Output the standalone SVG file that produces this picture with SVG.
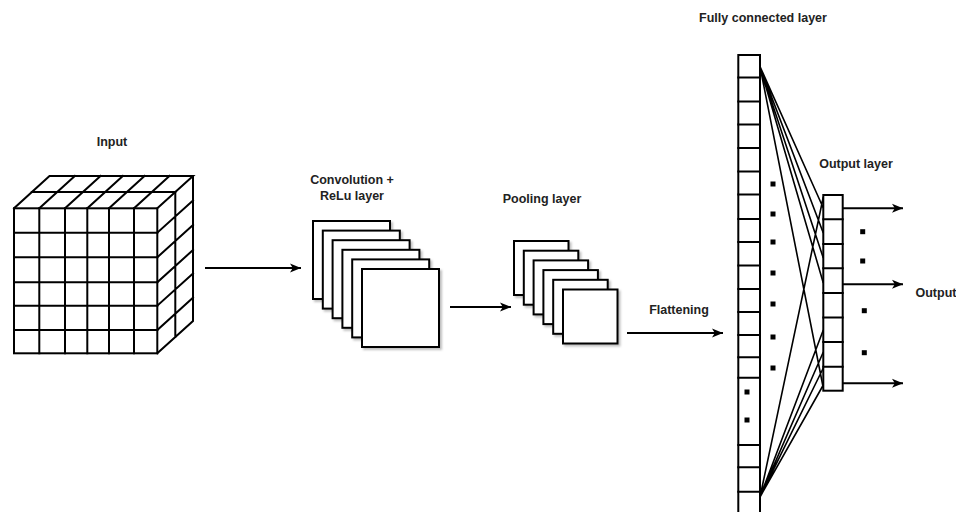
<svg xmlns="http://www.w3.org/2000/svg" width="956" height="512" viewBox="0 0 956 512">
  <defs>
    <style>
      .ln { stroke: #000; stroke-width: 2; fill: none; stroke-linecap: square; }
      .box { stroke: #000; stroke-width: 2; fill: #fff; }
      .sheet { stroke: #000; stroke-width: 2; fill: #fff; filter: url(#shade); }
      .wire { stroke: #000; stroke-width: 1.6; fill: none; }
      .arrow { stroke: #000; stroke-width: 2; fill: none; marker-end: url(#head); }
      .dot { fill: #000; }
      .lbl { font-family: "Liberation Sans", Arial, Helvetica, sans-serif; font-weight: bold; font-size: 12.5px; fill: #222; text-anchor: middle; }
    </style>
    <filter id="shade" x="-10%" y="-10%" width="130%" height="130%">
      <feDropShadow dx="2" dy="2" stdDeviation="1" flood-color="#000" flood-opacity="0.25"/>
    </filter>
    <marker id="head" markerUnits="userSpaceOnUse" markerWidth="12" markerHeight="10" refX="11" refY="5" orient="auto">
      <path d="M0,0.5 L11,5 L0,9.5 L2.8,5 Z" fill="#000"/>
    </marker>
  </defs>

  <rect width="956" height="512" fill="#fff"/>

  <!-- 6x6x2 input volume -->
  <g id="node-input">
    <text class="lbl" x="112" y="146">Input</text>
    <!-- top face -->
    <path class="ln" d="M14,208.3 L49.5,176 L193,176 L157.3,208.3 M31.7,192 L175.3,192
      M39.3,208.3 L74.8,176 M65,208.3 L100.5,176 M87.3,208.3 L122.8,176
      M109,208.3 L144.5,176 M134,208.3 L169.5,176"/>
    <!-- right face -->
    <path class="ln" d="M193,176 L193,321 L157.3,353.3 M175.3,192 L175.3,337
      M157.3,232.7 L193,200.4 M157.3,257.3 L193,225 M157.3,282.3 L193,250
      M157.3,305.7 L193,273.4 M157.3,330 L193,297.7"/>
    <!-- front face -->
    <rect class="ln" x="14" y="208.3" width="143.3" height="145"/>
    <path class="ln" d="M39.3,208.3 V353.3 M65,208.3 V353.3 M87.3,208.3 V353.3 M109,208.3 V353.3 M134,208.3 V353.3
      M14,232.7 H157.3 M14,257.3 H157.3 M14,282.3 H157.3 M14,305.7 H157.3 M14,330 H157.3"/>
  </g>

  <!-- convolution feature maps -->
  <g id="node-conv">
    <text class="lbl" x="352" y="184">Convolution +</text>
    <text class="lbl" x="352" y="200">ReLu layer</text>
    <rect class="sheet" x="313" y="221" width="77" height="78"/>
    <rect class="sheet" x="322.8" y="230.6" width="77" height="78"/>
    <rect class="sheet" x="332.6" y="240.2" width="77" height="78"/>
    <rect class="sheet" x="342.4" y="249.8" width="77" height="78"/>
    <rect class="sheet" x="352.2" y="259.4" width="77" height="78"/>
    <rect class="sheet" x="362" y="269" width="77" height="78"/>
  </g>

  <!-- pooled feature maps -->
  <g id="node-pool">
    <text class="lbl" x="542" y="203">Pooling layer</text>
    <rect class="sheet" x="514" y="241" width="54.5" height="54"/>
    <rect class="sheet" x="523.8" y="250.7" width="54.5" height="54"/>
    <rect class="sheet" x="533.6" y="260.4" width="54.5" height="54"/>
    <rect class="sheet" x="543.4" y="270.1" width="54.5" height="54"/>
    <rect class="sheet" x="553.2" y="279.8" width="54.5" height="54"/>
    <rect class="sheet" x="563" y="289.5" width="54.5" height="54"/>
  </g>

  <!-- flattened vector -->
  <g id="node-fc">
    <text class="lbl" x="763" y="22">Fully connected layer</text>
    <rect class="box" x="738.3" y="55" width="21.7" height="462"/>
    <path class="ln" d="M738.3,77.5 H760 M738.3,101.5 H760 M738.3,124.5 H760 M738.3,148 H760 M738.3,171.5 H760
      M738.3,194.5 H760 M738.3,219 H760 M738.3,242 H760 M738.3,265.5 H760 M738.3,289 H760
      M738.3,312 H760 M738.3,335 H760 M738.3,357.3 H760 M738.3,377.7 H760
      M738.3,445 H760 M738.3,467.3 H760 M738.3,491.7 H760"/>
    <rect class="dot" x="744.5" y="389.5" width="5" height="5"/>
    <rect class="dot" x="744.5" y="417.5" width="5" height="5"/>
  </g>

  <!-- output neurons -->
  <g id="node-output-layer">
    <text class="lbl" x="856" y="168">Output layer</text>
    <rect class="box" x="823.3" y="195" width="19.4" height="195.7"/>
    <path class="ln" d="M823.3,219.3 H842.7 M823.3,244 H842.7 M823.3,268.3 H842.7 M823.3,293 H842.7
      M823.3,317.5 H842.7 M823.3,342 H842.7 M823.3,366.7 H842.7"/>
  </g>

  <g id="node-output">
    <text class="lbl" x="936" y="297">Output</text>
  </g>

  <!-- ellipsis markers -->
  <g id="ellipsis">
    <rect class="dot" x="770.5" y="181.5" width="5" height="5"/>
    <rect class="dot" x="770.5" y="211.5" width="5" height="5"/>
    <rect class="dot" x="770.5" y="239.5" width="5" height="5"/>
    <rect class="dot" x="770.5" y="270.5" width="5" height="5"/>
    <rect class="dot" x="770.5" y="301.5" width="5" height="5"/>
    <rect class="dot" x="770.5" y="334.5" width="5" height="5"/>
    <rect class="dot" x="770.5" y="365.5" width="5" height="5"/>
    <rect class="dot" x="860.2" y="229.2" width="5" height="5"/>
    <rect class="dot" x="860.2" y="258.5" width="5" height="5"/>
    <rect class="dot" x="861.8" y="308.2" width="5" height="5"/>
    <rect class="dot" x="861.8" y="350.2" width="5" height="5"/>
  </g>

  <!-- connectors -->
  <g id="connectors">
    <line class="arrow" x1="205" y1="268" x2="301" y2="268"/>
    <line class="arrow" x1="450" y1="307" x2="511" y2="307"/>
    <line class="arrow" x1="627" y1="333" x2="723" y2="333"/>
    <text class="lbl" x="679" y="314">Flattening</text>

    <!-- dense weights -->
    <path class="wire" d="M760,66.5 L823.3,208 M760,66.5 L823.3,233 M760,66.5 L823.3,258 M760,66.5 L823.3,283 M760,66.5 L823.3,388
      M760,497 L823.3,197 M760,497 L823.3,330 M760,497 L823.3,352 M760,497 L823.3,368 M760,497 L823.3,385"/>

    <line class="arrow" x1="843" y1="208.3" x2="903" y2="208.3"/>
    <line class="arrow" x1="843" y1="284.3" x2="903" y2="284.3"/>
    <line class="arrow" x1="843" y1="383.3" x2="903" y2="383.3"/>
  </g>
</svg>
